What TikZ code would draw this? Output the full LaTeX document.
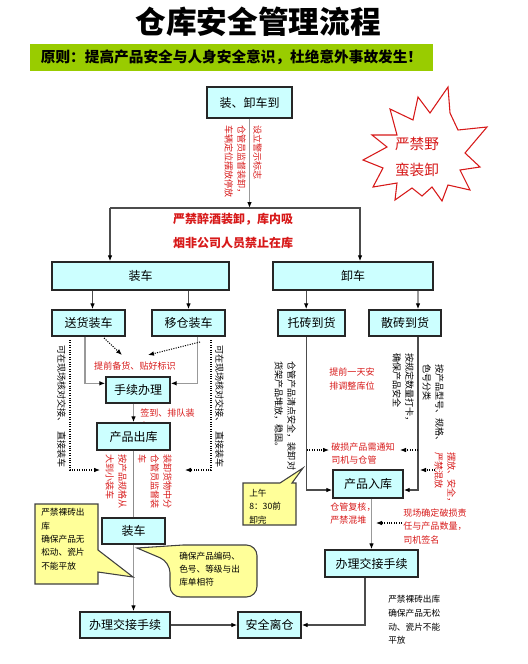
\documentclass[tikz,border=0pt]{standalone}
\usepackage{fontspec}
\setmainfont{Noto Sans CJK SC}
\usetikzlibrary{arrows.meta}
\definecolor{boxcyan}{RGB}{204,255,255}
\definecolor{noteyellow}{RGB}{255,255,153}
\definecolor{bannergreen}{RGB}{153,204,0}
\definecolor{warnred}{RGB}{215,25,25}

\begin{document}
\begin{tikzpicture}[x=0.75pt, y=-0.75pt,
	box/.style={draw=black!85, line width=1.1pt, fill=boxcyan, inner sep=0pt, font=\fontsize{9}{11}\selectfont},
	conn/.style={draw=black!70, line width=0.9pt, -{Latex[length=4.5pt, width=3.5pt, color=black]}},
	light/.style={conn, draw=black!40},
	dotarr/.style={densely dotted, line width=0.8pt, -{Latex[length=4.5pt, width=3.5pt]}},
	vtext/.style={rotate=-90, anchor=north west, align=left, inner sep=0pt, font=\fontsize{6.8}{9.5}\selectfont},
	note/.style={anchor=north west, align=left, inner sep=0pt},
	warn/.style={text=warnred},
	callout/.style={draw=black!75, line width=0.8pt, fill=noteyellow}
	]
	\useasboundingbox (0,0) rectangle (528,664);
	
	% Title and motto
	\node[font=\bfseries\fontsize{23}{23}\selectfont] (title) at (258,22) {仓库安全管理流程};
	\node[fill=bannergreen, minimum width=302.25pt, minimum height=20.25pt, inner sep=0pt,
	font=\bfseries\fontsize{11}{11}\selectfont] (motto) at (231.5,57.5) {原则：提高产品安全与人身安全意识，杜绝意外事故发生！};
	
	% Starburst
	\draw[draw=warnred, line width=0.8pt, fill=white]
	(448,87) -- (430,113) -- (418,97) -- (413,120) -- (390,109) -- (397,135) -- (372,135)
	-- (387,147) -- (363,160) -- (383,168) -- (373,187) -- (397,183) -- (395,200)
	-- (412,188) -- (422,196) -- (432,187) -- (442,201) -- (448,185) -- (470,190)
	-- (460,170) -- (480,167) -- (465,153) -- (487,127) -- (458,130) -- (450,113) -- cycle;
	\node[warn, align=center, font=\fontsize{11}{19}\selectfont] (wild) at (417,157) {严禁野\\蛮装卸};
	
	% Boxes
	\node[box, minimum width=63.75pt, minimum height=23.25pt] (arrive) at (249.5,102.5) {装、卸车到};
	\node[box, minimum width=132.75pt, minimum height=21pt] (load) at (140.5,276) {装车};
	\node[box, minimum width=120pt, minimum height=21pt] (unload) at (353,276) {卸车};
	\node[box, minimum width=54.75pt, minimum height=19.5pt] (deliver) at (88.5,323) {送货装车};
	\node[box, minimum width=54.75pt, minimum height=19.5pt] (move) at (188.5,323) {移仓装车};
	\node[box, minimum width=50.25pt, minimum height=19.5pt] (pallet) at (311.5,323) {托砖到货};
	\node[box, minimum width=54pt, minimum height=19.5pt] (loose) at (405,323) {散砖到货};
	\node[box, minimum width=48pt, minimum height=19.5pt] (papers) at (138,390) {手续办理};
	\node[warn, note, font=\fontsize{6.8}{9.75}\selectfont] (queue) at (140,408.5) {签到、排队装\\车};
	\node[box, minimum width=54.75pt, minimum height=20.25pt] (out) at (133.5,436.5) {产品出库};
	\node[box, minimum width=47.25pt, minimum height=19.5pt] (load2) at (133.5,531) {装车};
	\node[box, minimum width=67.5pt, minimum height=19.5pt] (hand1) at (125,625) {办理交接手续};
	\node[box, minimum width=47.25pt, minimum height=19.5pt] (leave) at (269.5,625) {安全离仓};
	\node[box, minimum width=52.5pt, minimum height=21pt] (in) at (368,484) {产品入库};
	\node[box, minimum width=69.75pt, minimum height=20.25pt] (hand2) at (371.5,563.5) {办理交接手续};
	
	% Frame with ban
	\coordinate (fl) at (110,208);
	\coordinate (fr) at (360,208);
	\node[warn, align=center, font=\bfseries\fontsize{9}{18}\selectfont] (ban) at (233,231) {严禁醉酒装卸，库内吸\\烟非公司人员禁止在库};
	\draw[light] (arrive.south) -- (arrive.south |- fl);
	\draw[conn] (fl) -- (fr) -- (fr |- unload.north);
	\draw[conn] (fl) -- (fl |- load.north);
	
	% Entry points off centre
	\coordinate (deltop) at ([xshift=3pt]deliver.north);
	\coordinate (delbot) at ([xshift=-2.6pt]deliver.south);
	\coordinate (movbot) at ([xshift=7pt]move.south);
	\coordinate (paltop) at ([xshift=-4pt]pallet.north);
	\coordinate (palbot) at ([xshift=-4pt]pallet.south);
	\coordinate (lootop) at ([xshift=9.75pt]loose.north);
	\coordinate (loobot) at ([xshift=9.75pt]loose.south);
	\coordinate (papw) at ([yshift=5pt]papers.west);
	\coordinate (pape) at ([yshift=5pt]papers.east);
	\coordinate (inw) at ([yshift=-4.5pt]in.west);
	\coordinate (ine) at ([yshift=-4.5pt]in.east);
	\coordinate (h2bot) at ([xshift=-4.9pt]hand2.south);
	
	% Loading side
	\draw[conn] (load.south -| deltop) -- (deltop);
	\draw[conn] (load.south -| move.north) -- (move.north);
	\draw[light] (delbot) |- (papw);
	\draw[light] (movbot) |- (pape);
	\draw[light] (papers.south -| out.north) -- (out.north);
	\draw[draw=black!45, line width=0.9pt] (out.south) -- (load2.north);
	\draw[light] (load2.south) -- (load2.south |- hand1.north);
	\draw[conn] (hand1.east) -- (leave.west);
	
	% Unloading side
	\draw[conn] (unload.south -| paltop) -- (paltop);
	\draw[light] (unload.south -| lootop) -- (lootop);
	\draw[conn] (palbot) |- (inw);
	\draw[conn] (loobot) |- (ine);
	\draw[light] (hand2.north |- in.south) -- (hand2.north);
	\draw[conn] (h2bot) |- (leave.east);
	
	% Dotted hints
	\coordinate (d1s) at (104,338);
	\coordinate (d1e) at (122,355);
	\coordinate (d2s) at (200,342);
	\coordinate (d2e) at (148,355);
	\coordinate (lds) at (70,340);
	\coordinate (lde) at (100,470);
	\coordinate (rds) at (211,340);
	\coordinate (rde) at (185,470);
	\coordinate (p1s) at (307,450);
	\coordinate (p1e) at (329,450);
	\coordinate (p2s) at (418,450);
	\coordinate (p2e) at (400,450);
	\coordinate (p3s) at (435,470);
	\coordinate (p3e) at (420,470);
	\coordinate (p4s) at (402,523);
	\coordinate (p4e) at (376,523);
	\draw[dotarr] (d1s) -- (d1e);
	\draw[dotarr] (d2s) -- (d2e);
	\draw[dotarr] (lds) |- (lde);
	\draw[dotarr] (rds) |- (rde);
	\draw[dotarr] (p1s) -- (p1e);
	\draw[dotarr] (p2s) -- (p2e);
	\draw[dotarr] (p3s) -- (p3e);
	\draw[dotarr] (p4s) -- (p4e);
	
	% Vertical notes
	\node[vtext, warn] (sign) at (262,125) {设立警示标志};
	\node[vtext, warn] (watch) at (246,125) {仓管员监督装卸，\\车辆定位摆放停放};
	\node[vtext] (sitel) at (66,345) {可在现场核对交接、\enspace 直接装车};
	\node[vtext] (siter) at (224,345) {可在现场核对交接、\enspace 直接装车};
	\node[vtext, warn] (order) at (127,454) {按产品规格从\\大到小装车};
	\node[vtext, warn] (check) at (172,454) {装卸货物中分\\仓管员监督装\\车};
	\node[vtext] (count) at (296,361) {仓管产品清点安全，装卸对\\货架产品堆放，稳固。};
	\node[vtext] (tally) at (414,353) {按规定数量打卡，\\确保产品安全};
	\node[vtext] (sort) at (444,364) {按产品型号、规格、\\色号分类};
	\node[vtext, warn] (stack) at (456,452) {摆放、安全，\\严禁混放};
	
	% Horizontal notes
	\node[warn, font=\fontsize{6.8}{8}\selectfont] (prep) at (135,366) {提前备货、贴好标识};
	\node[warn, align=center, font=\fontsize{6.8}{11}\selectfont] (plan) at (352,379) {提前一天安\\排调整库位};
	\node[warn, note, font=\fontsize{6.8}{9.75}\selectfont] (broken) at (331,442.5) {破损产品需通知\\司机与仓管};
	\node[warn, note, font=\fontsize{6.8}{9.75}\selectfont] (recheck) at (330,502.5) {仓管复核，\\严禁混堆};
	\node[warn, note, font=\fontsize{6.8}{10}\selectfont] (duty) at (403,508.5) {现场确定破损责\\任与产品数量，\\司机签名};
	\node[note, font=\fontsize{6.5}{10.3}\selectfont] (bare) at (388,595) {严禁裸砖出库\\确保产品无松\\动、瓷片不能\\平放};
	
	% Callouts
	\draw[callout] (35,504) -- (98,504) -- (98,550) -- (133,577) -- (98,572) -- (98,584) -- (35,584) -- cycle;
	\node[note, font=\fontsize{6.5}{10.1}\selectfont] (nobare) at (41,508) {严禁裸砖出\\库\\确保产品无\\松动、瓷片\\不能平放};
	\draw[callout, rounded corners=8pt] (183,545) -- (257,545) -- (257,597) -- (170,597) -- (170,562) [sharp corners] -- (137,548) -- cycle;
	\node[note, font=\fontsize{6.5}{9.75}\selectfont] (match) at (179,552) {确保产品编码、\\色号、等级与出\\库单相符};
	\draw[callout] (243,483) -- (280,483) -- (303,468) -- (292,483) -- (296,483) -- (296,525) -- (243,525) -- cycle;
	\node[note, font=\fontsize{6.5}{10}\selectfont] (time) at (249,489) {上午\\8：30前\\卸完};
	
\end{tikzpicture}
\end{document}
